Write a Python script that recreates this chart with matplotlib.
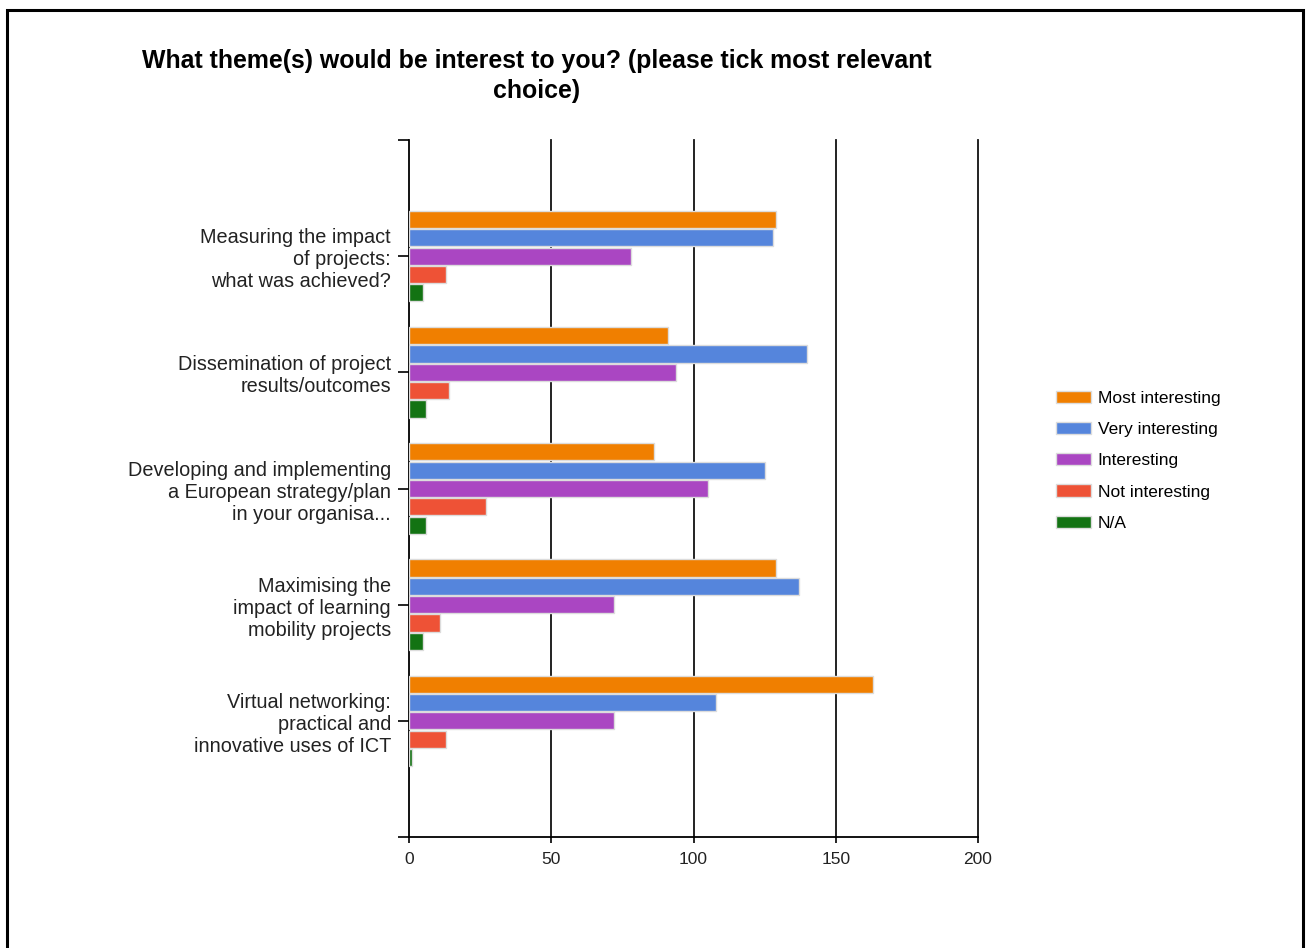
import matplotlib.pyplot as plt
from matplotlib.patches import Patch, Rectangle
import numpy as np

plt.rcParams["font.family"] = ["Liberation Sans", "DejaVu Sans"]

categories = [
    "Measuring the impact\nof projects:\nwhat was achieved?",
    "Dissemination of project\nresults/outcomes",
    "Developing and implementing\na European strategy/plan\nin your organisa...",
    "Maximising the\nimpact of learning\nmobility projects",
    "Virtual networking:\npractical and\ninnovative uses of ICT",
]
series_names = ["Most interesting", "Very interesting", "Interesting", "Not interesting", "N/A"]
most_interesting = [129, 91, 86, 129, 163]
very_interesting = [128, 140, 125, 137, 108]
interesting = [78, 94, 105, 72, 72]
not_interesting = [13, 14, 27, 11, 13]
not_applicable = [5, 6, 6, 5, 1]
x_ticks = [0, 50, 100, 150, 200]

series = [most_interesting, very_interesting, interesting, not_interesting, not_applicable]
colors = ["#f07f00", "#5585dc", "#aa46c2", "#ee5236", "#137313"]

fig = plt.figure(figsize=(13.09, 9.48), dpi=100)
W, H = 1309, 948
ax = fig.add_axes([409 / W, 1 - 837 / H, (978 - 409) / W, (837 - 140) / H])

ypos = np.arange(1, len(categories) + 1)
step = 0.158
bar_h = 0.148
for i, (vals, col, name) in enumerate(zip(series, colors, series_names)):
    ax.barh(ypos + (i - 2) * step, vals, height=bar_h, color=col,
            edgecolor="#dcdcdc", linewidth=1.0, label=name, zorder=3)

ax.set_xlim(0, 200)
ax.set_ylim(len(categories) + 1, 0)
ax.set_xticks(x_ticks)
ax.set_xticklabels([str(t) for t in x_ticks], fontsize=12.5, color="#222222")
ax.set_yticks([0] + list(ypos) + [len(categories) + 1])
ax.set_yticklabels([""] + categories + [""], fontsize=14.3, color="#222222",
                   linespacing=1.2)
ax.tick_params(axis="y", length=8, width=1.2, pad=5)
ax.tick_params(axis="x", length=4.5, width=1.2, pad=6.5, direction="out")

for t in x_ticks[1:]:
    ax.axvline(t, color="#111111", linewidth=1.3, zorder=1, clip_on=False)
for side in ["top", "right"]:
    ax.spines[side].set_visible(False)
ax.spines["left"].set_linewidth(1.3)
ax.spines["bottom"].set_linewidth(1.3)

fig.text(537 / W, 1 - 76 / H,
         "What theme(s) would be interest to you? (please tick most relevant\nchoice)",
         ha="center", va="center", fontsize=17.9, fontweight="bold", linespacing=1.3)

handles = [Patch(facecolor=c, edgecolor="#dcdcdc", label=n) for c, n in zip(colors, series_names)]
fig.legend(handles=handles, loc="upper left", bbox_to_anchor=(1056 / W, 1 - 391 / H),
           frameon=False, fontsize=12.5, handlelength=2.0, handleheight=0.7,
           handletextpad=0.4, labelspacing=0.92, borderpad=0, borderaxespad=0)

# outer frame
fig.patches.append(Rectangle((7 / W, -0.01), (1303 - 7) / W, 1.01 - 10 / H,
                             transform=fig.transFigure, fill=False,
                             edgecolor="black", linewidth=2.2))

fig.savefig("out.png", dpi=100)
